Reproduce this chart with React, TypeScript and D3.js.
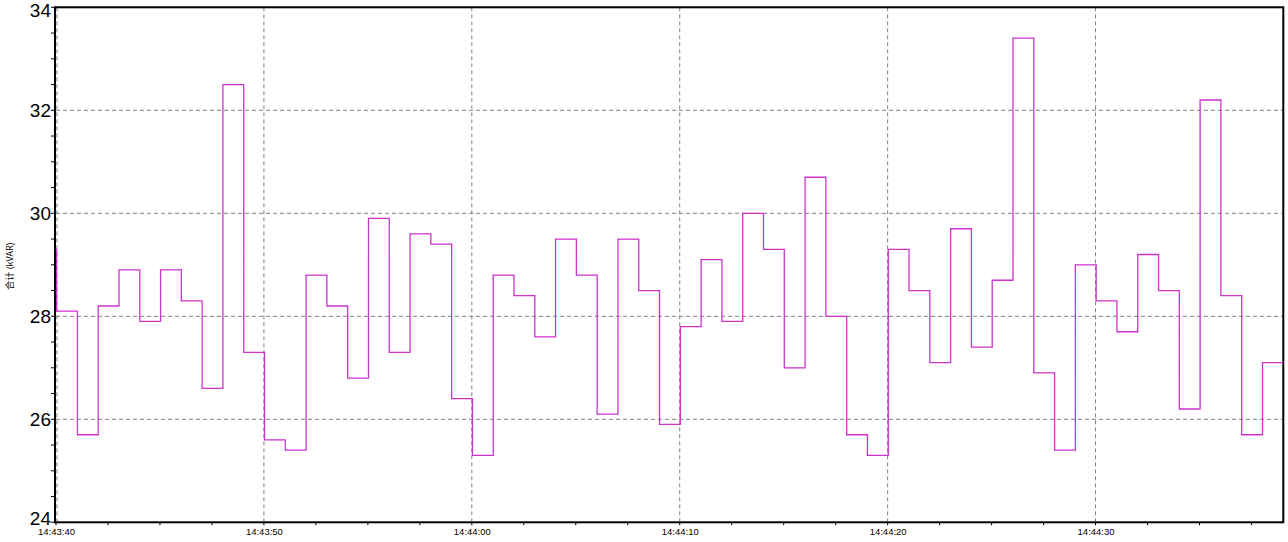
import React from "react";
import * as d3 from "d3";

const startTime = "2000-01-01T14:43:39";
const values: number[] = [
  29.3,
  28.1, 25.7, 28.2, 28.9, 27.9, 28.9, 28.3, 26.6, 32.5, 27.3,
  25.6, 25.4, 28.8, 28.2, 26.8, 29.9, 27.3, 29.6, 29.4, 26.4,
  25.3, 28.8, 28.4, 27.6, 29.5, 28.8, 26.1, 29.5, 28.5, 25.9,
  27.8, 29.1, 27.9, 30.0, 29.3, 27.0, 30.7, 28.0, 25.7, 25.3,
  29.3, 28.5, 27.1, 29.7, 27.4, 28.7, 33.4, 26.9, 25.4, 29.0,
  28.3, 27.7, 29.2, 28.5, 26.2, 32.2, 28.4, 25.7, 27.1,
];
const yTicks = [24, 26, 28, 30, 32, 34];
const xTickLabels = ["14:43:40", "14:43:50", "14:44:00", "14:44:10", "14:44:20", "14:44:30"];
const yLabel = "合计 (kVAR)";

const W = 1288, H = 542;
const left = 56, right = 1283.3, top = 7.3, bottom = 522.3;

export default function App() {
  const t0 = new Date(startTime).getTime();
  const data = values.map((v, i) => ({ t: new Date(t0 + i * 1000), v }));
  data.push({ t: new Date(t0 + values.length * 1000), v: values[values.length - 1] });
  const domStart = new Date(t0 + 1000);
  const domEnd = new Date(t0 + 1000 + 59.03 * 1000);
  const x = d3.scaleTime().domain([domStart, domEnd]).range([left, right]);
  const y = d3.scaleLinear().domain([24, 34]).range([bottom, top]);
  const line = d3.line<{ t: Date; v: number }>()
    .x(d => x(d.t)).y(d => y(d.v)).curve(d3.curveStepAfter);

  const majorX = xTickLabels.map((_, i) => new Date(t0 + 1000 + i * 10000));
  const minorX: Date[] = [];
  for (let s = 0; s <= 59; s += 2.5) minorX.push(new Date(t0 + 1000 + s * 1000));
  const minorY: number[] = [];
  for (let v = 24; v <= 34.001; v += 0.5) minorY.push(v);

  const labelY = (v: number) => {
    if (v === 34) return 17;
    if (v === 24) return 525;
    return y(v) + 6.8;
  };

  return (
    <svg width={W} height={H} style={{ position: "absolute", left: 0, top: 0, background: "#fff" }}>
      <defs>
        <clipPath id="plot">
          <rect x={left - 1} y={top} width={right - left + 1} height={bottom - top} />
        </clipPath>
      </defs>
      <rect x={0} y={0} width={W} height={H} fill="#fff" />
      {yTicks.map(v => (
        <line key={"gy" + v} x1={left} x2={right} y1={y(v)} y2={y(v)}
          stroke="#808080" strokeDasharray="4,3" strokeWidth={1} />
      ))}
      {majorX.map((d, i) => (
        <line key={"gx" + i} x1={x(d) + (i === 0 ? 1 : 0)} x2={x(d) + (i === 0 ? 1 : 0)} y1={top} y2={bottom}
          stroke="#808080" strokeDasharray="4,3" strokeWidth={1} />
      ))}
      <rect x={left - 1} y={top} width={right - left + 1} height={bottom - top} fill="none" stroke="#000" strokeWidth={2} />
      <path d={line(data) || ""} fill="none" stroke="#cc33cc" strokeWidth={1.3} clipPath="url(#plot)"
        transform="translate(0.6,0)" />
      {minorY.map((v, i) => (
        <line key={"ty" + i} x1={left - 5} x2={left} y1={y(v)} y2={y(v)} stroke="#000" strokeWidth={1} />
      ))}
      {minorX.map((d, i) => (
        <line key={"tx" + i} x1={x(d)} x2={x(d)} y1={bottom} y2={bottom + 3} stroke="#000" strokeWidth={1} />
      ))}
      {yTicks.map(v => (
        <text key={"ly" + v} x={51} y={labelY(v)} textAnchor="end"
          fontFamily="Liberation Sans, Arial, sans-serif" fontSize={19} fill="#000">{v}</text>
      ))}
      {majorX.map((d, i) => (
        <text key={"lx" + i} x={x(d) + 0.5} y={535} textAnchor="middle"
          fontFamily="Liberation Sans, Arial, sans-serif" fontSize={9.5} fill="#000">{xTickLabels[i]}</text>
      ))}
      <text x={13} y={266} transform="rotate(-90,13,266)" textAnchor="middle"
        fontFamily="Noto Sans CJK SC, sans-serif" fontSize={9} fill="#000">{yLabel}</text>
    </svg>
  );
}
